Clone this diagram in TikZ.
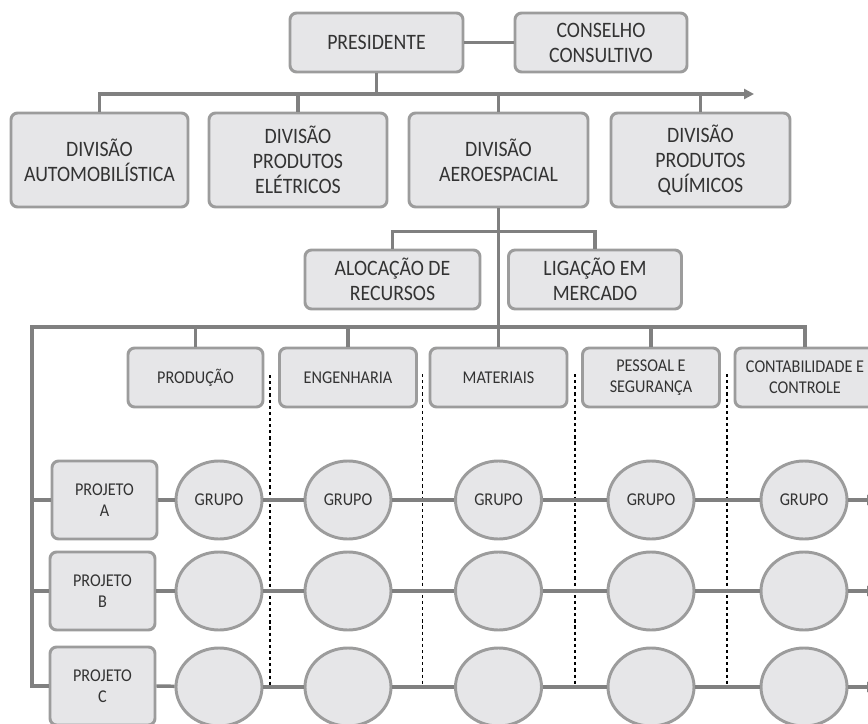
\documentclass[tikz,border=0pt]{standalone}
\usepackage{fontspec}
\setmainfont{Carlito}[FakeStretch=0.9]
\usetikzlibrary{arrows.meta,shapes.geometric}
\definecolor{boxfill}{HTML}{E6E6E8}
\definecolor{boxline}{HTML}{9C9C9C}
\definecolor{connc}{HTML}{808080}
\definecolor{txt}{HTML}{333333}
\begin{document}
\begin{tikzpicture}[x=0.75pt,y=-0.75pt,
  box/.style={draw=boxline, line width=2.2pt, fill=boxfill, rounded corners=5pt,
    text=txt, align=center, inner sep=0pt},
  big/.style={font=\fontsize{16.5}{18.75}\selectfont},
  small/.style={font=\fontsize{13.5}{15.75}\selectfont},
  sz/.style 2 args={minimum width=#1*0.75pt, minimum height=#2*0.75pt},
  grp/.style={ellipse, draw=boxline, line width=2.2pt, fill=boxfill, text=txt,
    inner sep=0pt, minimum width=86*0.75pt, minimum height=78*0.75pt,
    font=\fontsize{13.5}{15.75}\selectfont},
  link/.style={draw=connc, line width=2.6pt},
  tip/.style={-{Triangle[length=7.5pt,width=7.5pt]}},
  dots/.style={draw=black, line width=1.1pt, dash pattern=on 2.4pt off 2.2pt}]
\fill[white] (0,0) rectangle (868,724);
\useasboundingbox (0,0) rectangle (868,724);

% top level
\node[box,big,sz={173}{59}] (pres) at (376.5,42.5) {PRESIDENTE};
\node[box,big,sz={172}{59}] (cons) at (601,42.5) {CONSELHO\\CONSULTIVO};
\draw[link] (pres) -- (cons);

% divisions
\node[box,big,sz={177}{94}] (d1) at (99.5,160) {DIVISÃO\\AUTOMOBILÍSTICA};
\node[box,big,sz={178}{94}] (d2) at (298,160) {DIVISÃO\\PRODUTOS\\ELÉTRICOS};
\node[box,big,sz={179}{94}] (d3) at (498.5,160) {DIVISÃO\\AEROESPACIAL};
\node[box,big,sz={179}{94}] (d4) at (700.5,160) {DIVISÃO\\PRODUTOS\\QUÍMICOS};

\coordinate (tl) at (99.5,94);
\coordinate (tr) at (754,94);
\draw[link,tip] (d1.north) |- (tr);
\draw[link] (pres.south) -- (pres.south |- tl);
\draw[link] (d2.north) -- (d2.north |- tl);
\draw[link] (d3.north) -- (d3.north |- tl);
\draw[link] (d4.north) -- (d4.north |- tl);

% staff
\node[box,big,sz={175}{59}] (aloc) at (392.5,279.5) {ALOCAÇÃO DE\\RECURSOS};
\node[box,big,sz={173}{59}] (lig) at (595,279.5) {LIGAÇÃO EM\\MERCADO};
\draw[link] (aloc.north) -- ++(0,-17) -| (lig.north);

% departments
\node[box,small,sz={135}{59}] (p1) at (195.5,377.5) {PRODUÇÃO};
\node[box,small,sz={137}{59}] (p2) at (348,377.5) {ENGENHARIA};
\node[box,small,sz={137}{59}] (p3) at (498.5,377.5) {MATERIAIS};
\node[box,small,sz={137}{59}] (p4) at (651,377.5) {PESSOAL E\\SEGURANÇA};
\node[box,small,sz={140}{59}] (p5) at (805,377.5) {CONTABILIDADE E\\CONTROLE};
\draw[link] (d3.south) -- (p3.north);

% projects
\node[box,small,sz={105}{78}] (pa) at (104.5,500) {PROJETO\\A};
\node[box,small,sz={105}{78}] (pb) at (102.5,591) {PROJETO\\B};
\node[box,small,sz={105}{78}] (pc) at (102.5,686) {PROJETO\\C};

\coordinate (bl) at (32,327);
\draw[link] (pc.west) -- (pc.west -| bl) -- (bl) -- (p5.north |- bl) -- (p5.north);
\draw[link] (p1.north) -- (p1.north |- bl);
\draw[link] (p2.north) -- (p2.north |- bl);
\draw[link] (p4.north) -- (p4.north |- bl);
\draw[link] (pa.west) -- (pa.west -| bl);
\draw[link] (pb.west) -- (pb.west -| bl);

% dotted separators
\coordinate (s1t) at (270,375);   \coordinate (s1b) at (270,686);
\coordinate (s2t) at (422.5,374); \coordinate (s2b) at (422.5,686);
\coordinate (s3t) at (575,374);   \coordinate (s3b) at (575,686);
\coordinate (s4t) at (727,374);   \coordinate (s4b) at (727,686);
\draw[dots] (s1t) -- (s1b);
\draw[dots] (s2t) -- (s2b);
\draw[dots] (s3t) -- (s3b);
\draw[dots] (s4t) -- (s4b);

% groups
\foreach \r/\y/\t in {a/500/GRUPO, b/591/, c/687/}{
  \node[grp] (\r1) at (219,\y) {\t};
  \node[grp] (\r2) at (348,\y) {\t};
  \node[grp] (\r3) at (498.5,\y) {\t};
  \node[grp] (\r4) at (651,\y) {\t};
  \node[grp] (\r5) at (804,\y) {\t};
  \coordinate (\r e) at (877,\y);
}
\draw[link] (pa.east) -- (a1);
\draw[link] (pb.east) -- (b1);
\draw[link] (pc.east) -- (c1);
\foreach \r in {a,b,c}{
  \draw[link] (\r1) -- (\r2);
  \draw[link] (\r2) -- (\r3);
  \draw[link] (\r3) -- (\r4);
  \draw[link] (\r4) -- (\r5);
  \draw[link,tip] (\r5) -- (\r e);
}
\end{tikzpicture}
\end{document}
